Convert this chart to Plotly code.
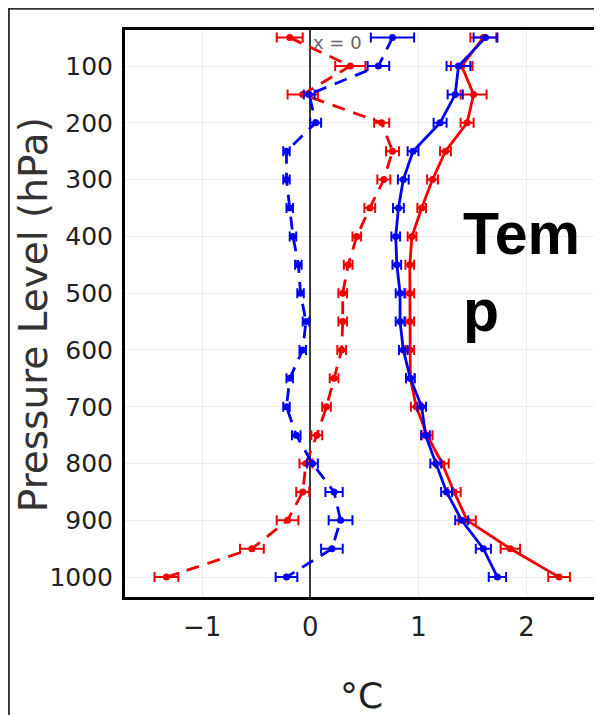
import plotly.graph_objects as go

levels = [50, 100, 150, 200, 250, 300, 350, 400, 450, 500,
          550, 600, 650, 700, 750, 800, 850, 900, 950, 1000]

blue_solid = [1.62, 1.37, 1.34, 1.20, 0.95, 0.86, 0.815, 0.79, 0.80, 0.83,
              0.83, 0.86, 0.925, 1.03, 1.065, 1.16, 1.26, 1.40, 1.60, 1.73]
red_solid = [1.60, 1.40, 1.51, 1.45, 1.25, 1.13, 1.03, 0.94, 0.92, 0.92,
             0.92, 0.92, 0.925, 0.98, 1.08, 1.22, 1.33, 1.45, 1.85, 2.30]
red_dashed = [-0.19, 0.37, -0.07, 0.66, 0.76, 0.68, 0.55, 0.43, 0.35, 0.30,
              0.30, 0.29, 0.22, 0.15, 0.06, -0.04, -0.07, -0.21, -0.54, -1.33]
blue_dashed = [0.76, 0.63, -0.01, 0.05, -0.22, -0.22, -0.19, -0.16, -0.11, -0.09,
               -0.04, -0.07, -0.19, -0.22, -0.13, 0.02, 0.22, 0.28, 0.20, -0.22]

err_blue_solid = [0.11, 0.11, 0.07, 0.06, 0.05, 0.05, 0.05, 0.04, 0.04, 0.04,
                  0.04, 0.04, 0.04, 0.04, 0.04, 0.05, 0.05, 0.06, 0.07, 0.08]
err_red_solid = [0.12, 0.10, 0.12, 0.06, 0.05, 0.05, 0.04, 0.04, 0.04, 0.04,
                 0.04, 0.04, 0.04, 0.05, 0.05, 0.06, 0.06, 0.08, 0.09, 0.10]
err_red_dashed = [0.12, 0.14, 0.14, 0.07, 0.06, 0.06, 0.05, 0.04, 0.04, 0.04,
                  0.04, 0.04, 0.04, 0.04, 0.05, 0.06, 0.06, 0.10, 0.11, 0.11]
err_blue_dashed = [0.20, 0.10, 0.05, 0.05, 0.03, 0.03, 0.03, 0.03, 0.03, 0.03,
                   0.03, 0.03, 0.03, 0.03, 0.04, 0.05, 0.08, 0.11, 0.10, 0.10]

pressure_ticks = [100, 200, 300, 400, 500, 600, 700, 800, 900, 1000]
temp_ticks = [-1, 0, 1, 2]

RED = "#f00000"
BLUE = "#0000f0"
FONT = "DejaVu Sans"


def trace(x, err, color, dash):
    return go.Scatter(
        x=x, y=levels, mode="lines+markers",
        line=dict(color=color, width=2.8, dash=dash),
        marker=dict(color=color, size=7),
        error_x=dict(type="data", array=err, visible=True,
                     color=color, thickness=2, width=5),
        showlegend=False,
    )


fig = go.Figure()
fig.add_trace(trace(red_dashed, err_red_dashed, RED, "13px,9px"))
fig.add_trace(trace(blue_dashed, err_blue_dashed, BLUE, "13px,9px"))
fig.add_trace(trace(red_solid, err_red_solid, RED, "solid"))
fig.add_trace(trace(blue_solid, err_blue_solid, BLUE, "solid"))

# x = 0 reference line label
fig.add_annotation(x=0, y=1, xref="x", yref="paper", text="x = 0",
                   showarrow=False, xanchor="left", yanchor="top",
                   xshift=1, yshift=0,
                   font=dict(family=FONT, size=18, color="#666666"))

fig.add_annotation(x=0.711, y=0.572, xref="paper", yref="paper",
                   text="Tem<br>p", showarrow=False, align="left",
                   xanchor="left", yanchor="middle",
                   font=dict(family="Liberation Sans", size=59, color="black",
                             weight="bold"))

# axis titles
fig.add_annotation(x=-0.1945, y=0.497, xref="paper", yref="paper",
                   text="Pressure Level (hPa)", textangle=-90, showarrow=False,
                   xanchor="center", yanchor="middle",
                   font=dict(family=FONT, size=39, color="#333333"))
fig.add_annotation(x=0.5, y=-0.173, xref="paper", yref="paper",
                   text="°C", showarrow=False,
                   xanchor="center", yanchor="middle",
                   font=dict(family=FONT, size=36, color="#222222"))

# outer frame (top and left visible)
fig.add_shape(type="rect", xref="paper", yref="paper",
              x0=-0.2455, y0=-0.5, x1=1.5, y1=1.0375,
              line=dict(color="#333333", width=2), layer="below")

fig.update_layout(
    width=602, height=715,
    margin=dict(l=117, r=12, t=22, b=126),
    paper_bgcolor="white", plot_bgcolor="white",
    font=dict(family=FONT, color="#222222"),
    xaxis=dict(range=[-1.713, 2.66], tickvals=temp_ticks,
               ticktext=["\u22121", "0", "1", "2"],
               showgrid=True, gridcolor="#ececec", gridwidth=1,
               zeroline=True, zerolinecolor="#3a3a3a", zerolinewidth=2,
               showline=True, linecolor="black",
               linewidth=3, mirror=True, ticks="", automargin=False,
               tickfont=dict(size=26, family=FONT, color="#222222"),
               ticklabelstandoff=5),
    yaxis=dict(range=[1035, 36.6], tickvals=pressure_ticks,
               showgrid=True, gridcolor="#ececec", gridwidth=1,
               zeroline=False, showline=True, linecolor="black",
               linewidth=3, mirror=True, ticks="", automargin=False,
               tickfont=dict(size=25, family=FONT, color="#222222"),
               ticklabelstandoff=4),
)

fig.write_html("out.html")
